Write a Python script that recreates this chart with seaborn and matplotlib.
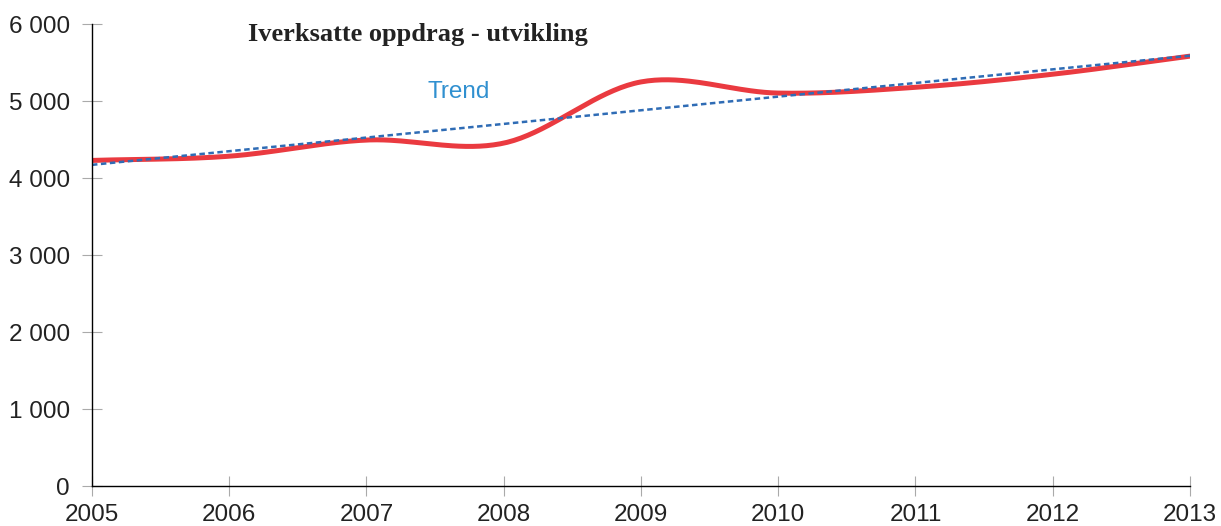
import numpy as np
import pandas as pd
import matplotlib
matplotlib.use('Agg')
import matplotlib.pyplot as plt
import seaborn as sns

# data
years = [2005, 2006, 2007, 2008, 2009, 2010, 2011, 2012, 2013]
oppdrag = [4230, 4285, 4495, 4455, 5250, 5105, 5180, 5350, 5585]
title = 'Iverksatte oppdrag - utvikling'
trend_label = 'Trend'
y_ticks = [0, 1000, 2000, 3000, 4000, 5000, 6000]


def smooth(x, y, n=40):
    """Catmull-Rom curve through the points (like a 'smoothed line' in Excel)"""
    x = np.asarray(x, float)
    y = np.asarray(y, float)
    px = np.concatenate([[2 * x[0] - x[1]], x, [2 * x[-1] - x[-2]]])
    py = np.concatenate([[2 * y[0] - y[1]], y, [2 * y[-1] - y[-2]]])
    xs, ys = [], []
    t = np.linspace(0, 1, n, endpoint=False)
    for i in range(1, len(px) - 2):
        for p, out in ((px, xs), (py, ys)):
            p0, p1, p2, p3 = p[i - 1], p[i], p[i + 1], p[i + 2]
            out.extend(0.5 * ((2 * p1) + (-p0 + p2) * t
                              + (2 * p0 - 5 * p1 + 4 * p2 - p3) * t ** 2
                              + (-p0 + 3 * p1 - 3 * p2 + p3) * t ** 3))
    xs.append(x[-1])
    ys.append(y[-1])
    return np.array(xs), np.array(ys)


sx, sy = smooth(years, oppdrag)
curve = pd.DataFrame({'year': sx, 'value': sy})

# linear trend from the data
k, b = np.polyfit(years, oppdrag, 1)
trend = pd.DataFrame({'year': years, 'value': np.polyval([k, b], years)})

sns.set_style('white')
plt.rcParams['font.family'] = ['Liberation Sans', 'DejaVu Sans']

fig = plt.figure(figsize=(12.21, 5.26), dpi=100)
ax = fig.add_axes([0.0753, 0.076, 0.8993, 0.878])

sns.lineplot(data=curve, x='year', y='value', ax=ax, color='#ea3a40',
             linewidth=3.6, sort=False, solid_capstyle='round')
sns.lineplot(data=trend, x='year', y='value', ax=ax, color='#2f6cb5',
             linewidth=1.8, linestyle=(0, (2.2, 1.4)))

ax.set_xlim(2005, 2013)
ax.set_ylim(0, 6000)
ax.set_xticks(years)
ax.set_yticks(y_ticks)
ax.set_yticklabels([f'{v:,}'.replace(',', ' ') for v in y_ticks])
ax.set_xlabel('')
ax.set_ylabel('')

for s in ['top', 'right']:
    ax.spines[s].set_visible(False)
for s in ['left', 'bottom']:
    ax.spines[s].set_color('black')
    ax.spines[s].set_linewidth(1.0)

# seaborn's white style switches the tick marks off
ax.tick_params(axis='x', bottom=True, direction='inout', length=14, width=0.8,
               color='#aaaaaa', labelsize=17.5, labelcolor='#222222', pad=6)
ax.tick_params(axis='y', left=True, direction='inout', length=14, width=0.8,
               color='#aaaaaa', labelsize=17.5, labelcolor='#222222', pad=9)

ax.text(2006.14, 5860, title, fontsize=19, fontweight='bold',
        family=['Liberation Serif', 'DejaVu Serif'], color='#222222',
        va='center', ha='left')
ax.text(2007.67, 5120, trend_label, fontsize=17.5, color='#3090d0',
        va='center', ha='center')

fig.savefig('out.png', dpi=100)
plt.close(fig)
